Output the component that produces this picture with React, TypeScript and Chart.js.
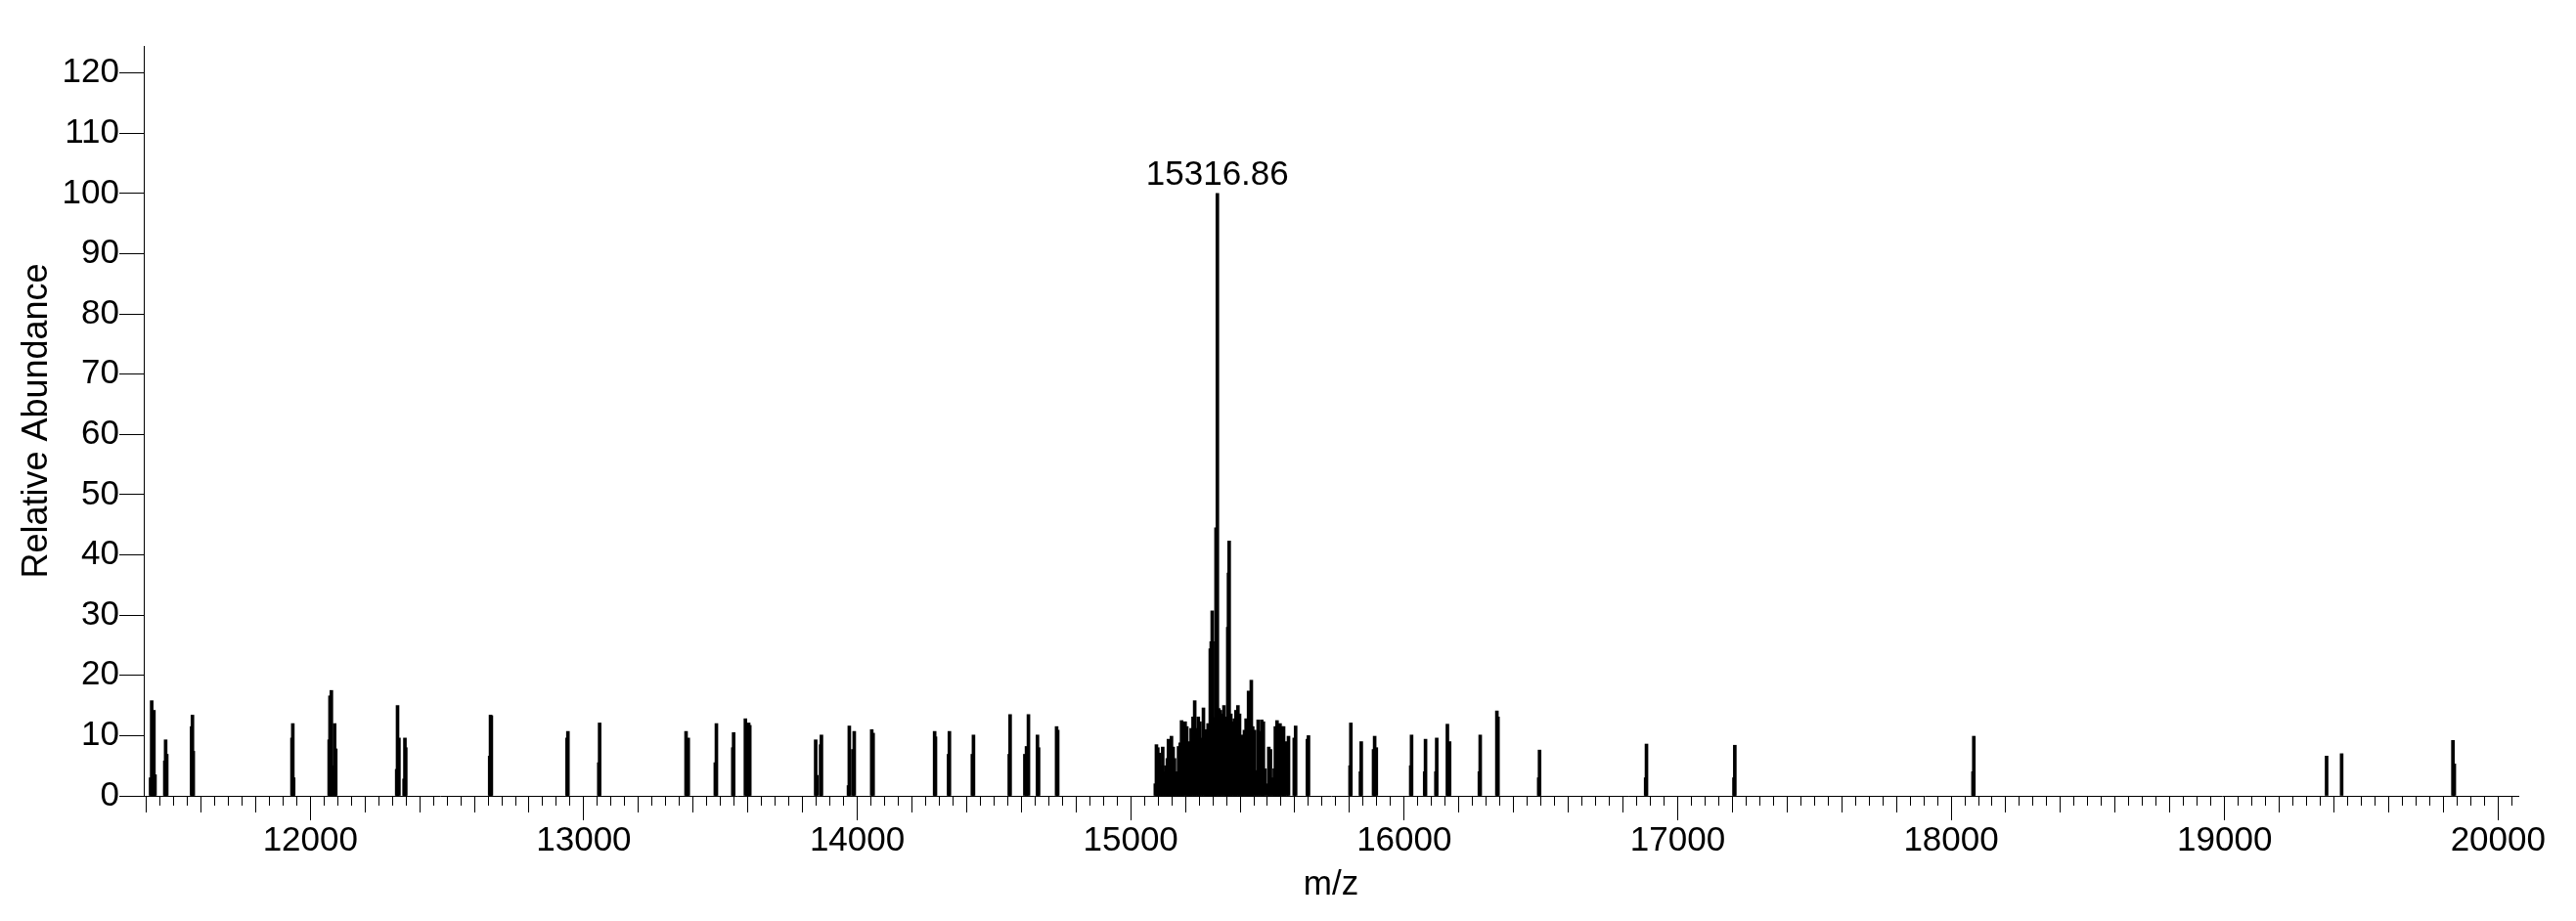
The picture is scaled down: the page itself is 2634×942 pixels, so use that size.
import React, { useEffect, useRef } from 'react';
import { Chart, registerables } from 'chart.js';

Chart.register(...registerables);

const FONT = '"Liberation Sans", Arial, Helvetica, sans-serif';

// Axis ranges and tick labels
const X_MIN = 11391;
const X_MAX = 20074;
const Y_MIN = 0;
const Y_MAX = 124.5;
const Y_TICKS = [0, 10, 20, 30, 40, 50, 60, 70, 80, 90, 100, 110, 120];
const X_TICK_FIRST = 11400;
const X_TICK_LAST = 20050;
const X_TICK_STEP = 50;

// Annotated base peak
const PEAK_MZ = 15316.86;
const PEAK_ABUNDANCE = 100;
const PEAK_TEXT = '15316.86';

// Sticks below the main cluster (m/z, relative abundance)
const MZ_LOW = [
  11416, 11420, 11424, 11428, 11432, 11468, 11471, 11475, 11566, 11569, 11572,
  11933, 11936, 11939, 12069, 12072, 12077, 12081, 12089, 12093, 12316, 12319,
  12324, 12343, 12346, 12349, 12656, 12659, 12662, 12939, 12942, 13055, 13058,
  13374, 13378, 13382, 13481, 13485, 13545, 13548, 13591, 13596, 13603, 13607,
  13848, 13852, 13866, 13869, 13968, 13971, 13984, 13989, 14053, 14058, 14283,
  14286, 14334, 14337, 14421, 14425, 14556, 14559, 14613, 14619, 14626, 14659,
  14663, 14729, 14733,
];
const AB_LOW = [
  3, 15.8, 9.6, 14.2, 3.5, 5.8, 9.3, 6.9, 11.5, 13.4, 7.4,
  9.6, 12.0, 3, 9.3, 16.6, 17.5, 5, 12.0, 7.8, 4.4, 15.0,
  9.6, 2.8, 9.6, 8.0, 6.6, 13.4, 13.3, 9.6, 10.7, 5.5, 12.1,
  10.7, 6.6, 9.6, 5.5, 12.0, 8.0, 10.5, 12.8, 6.1, 12.1, 11.7,
  9.3, 3.4, 8.5, 10.1, 1.7, 11.6, 7.7, 10.7, 11.0, 10.4, 10.7,
  9.8, 6.9, 10.7, 6.9, 10.1, 6.9, 13.5, 6.9, 8.2, 13.5, 10.1,
  8.0, 11.5, 10.9,
];

// Sticks in the dense cluster around the base peak
const MZ_CLUSTER = [
  15090, 15094, 15099, 15106, 15111, 15117, 15123, 15128, 15134, 15138, 15143,
  15149, 15155, 15160, 15166, 15172, 15175, 15181, 15186, 15192, 15199, 15205,
  15211, 15216, 15221, 15228, 15234, 15240, 15247, 15253, 15259, 15266, 15272,
  15277, 15283, 15286, 15291, 15294.5, 15298, 15300, 15303, 15307, 15312, 15316.86,
  15322, 15328, 15334, 15341, 15347, 15352, 15355, 15357.6, 15360, 15366, 15372,
  15379, 15385, 15392, 15398, 15404, 15410, 15416, 15422, 15427, 15431, 15437,
  15441, 15446, 15453, 15459, 15466, 15472, 15479, 15485, 15491, 15500, 15505,
  15511, 15518, 15525, 15529, 15535, 15540, 15546, 15552, 15559, 15563, 15571,
  15577, 15598, 15603, 15646, 15650,
];
const AB_CLUSTER = [
  2, 8.5, 8.0, 7.1, 5, 8.1, 4.0, 5, 6.2, 9.4, 7.7,
  9.9, 8.1, 6.2, 4, 2.1, 8.2, 8.8, 12.5, 12.1, 12.3, 11.5,
  6.1, 9, 11.2, 13.1, 15.8, 11.2, 13.1, 12.3, 9.6, 14.6, 10.9,
  11.0, 12.0, 11.5, 24.4, 25.6, 30.7, 25.6, 8.8, 13, 44.5, 100,
  14.5, 14.2, 13.6, 15.0, 13.1, 5.5, 28.0, 37.0, 42.3, 13.6, 12.3,
  12.8, 14.2, 15.0, 13.6, 9.3, 10.1, 10.9, 12.8, 12.0, 17.4, 13.1,
  19.2, 11.5, 10.9, 4.2, 12.6, 10.7, 12.6, 12.3, 4.5, 2.0, 8.1,
  7.7, 3, 4.5, 11.5, 12.5, 10.7, 12.0, 11.5, 11.5, 6.1, 9.0,
  9.9, 9.6, 11.6, 9.4, 10.0,
];

// Sticks above the main cluster
const MZ_HIGH = [
  15802, 15805, 15840, 15843, 15888, 15892, 15898, 16024, 16027, 16075, 16078,
  16116, 16119, 16158, 16162, 16166, 16275, 16278, 16339, 16343, 16492, 16495,
  16883, 16886, 17206, 17209, 18080, 18083, 19373, 19428, 19835, 19840,
];
const AB_HIGH = [
  5, 12.1, 4, 9.0, 7.7, 9.9, 8.0, 5, 10.1, 4, 9.4,
  4, 9.6, 11.9, 6, 9.0, 4, 10.1, 14.1, 13.1, 3, 7.6,
  3, 8.6, 3, 8.4, 4, 9.9, 6.6, 7.0, 9.2, 5.3,
];

const ALL_MZ = [...MZ_LOW, ...MZ_CLUSTER, ...MZ_HIGH];
const ALL_AB = [...AB_LOW, ...AB_CLUSTER, ...AB_HIGH];

const peakLabelPlugin = {
  id: 'peakLabel',
  afterDatasetsDraw(chart: any) {
    const { ctx, scales } = chart;
    const x = scales.x;
    const y = scales.y;
    ctx.save();
    ctx.font = `35px ${FONT}`;
    ctx.fillStyle = '#000';
    ctx.textAlign = 'center';
    ctx.textBaseline = 'alphabetic';
    ctx.fillText(PEAK_TEXT, x.getPixelForValue(PEAK_MZ), y.getPixelForValue(PEAK_ABUNDANCE) - 9);
    ctx.restore();
  },
};

export default function App() {
  const canvasRef = useRef<HTMLCanvasElement | null>(null);

  useEffect(() => {
    const canvas = canvasRef.current;
    if (!canvas) return;

    const points = ALL_MZ.map((mz, i) => ({ x: mz, y: ALL_AB[i] })).sort((a, b) => a.x - b.x);

    const xTickValues: number[] = [];
    for (let v = X_TICK_FIRST; v <= X_TICK_LAST; v += X_TICK_STEP) xTickValues.push(v);

    const chart = new Chart(canvas, {
      type: 'bar',
      data: {
        datasets: [
          {
            data: points as any,
            backgroundColor: '#000',
            borderWidth: 0,
            barThickness: 3,
            categoryPercentage: 1,
            barPercentage: 1,
          } as any,
        ],
      },
      plugins: [peakLabelPlugin],
      options: {
        responsive: false,
        animation: false,
        events: [],
        layout: { padding: { left: 0, top: 47, right: 59, bottom: 0 } },
        plugins: {
          legend: { display: false },
          tooltip: { enabled: false },
        },
        scales: {
          x: {
            type: 'linear',
            min: X_MIN,
            max: X_MAX,
            offset: false,
            afterBuildTicks: (scale: any) => {
              scale.ticks = xTickValues.map((v) => ({ value: v }));
            },
            afterFit: (scale: any) => {
              scale.height = 128;
            },
            grid: {
              display: true,
              offset: false,
              drawOnChartArea: false,
              drawTicks: true,
              tickLength: 25,
              tickColor: '#000',
              tickWidth: 1,
              tickBorderDash: (ctx: any) => {
                const v = ctx.tick ? ctx.tick.value : 0;
                if (v % 1000 === 0) return [];
                if (v % 200 === 0) return [16, 60];
                return [9, 60];
              },
            } as any,
            border: { display: true, color: '#000', width: 1 },
            ticks: {
              autoSkip: false,
              maxRotation: 0,
              minRotation: 0,
              padding: 0,
              color: '#000',
              font: { family: FONT, size: 35 },
              callback: (value: any) => (Number(value) % 1000 === 0 ? String(value) : ''),
            },
            title: {
              display: true,
              text: 'm/z',
              color: '#000',
              font: { family: FONT, size: 35 },
              padding: { top: 0, bottom: 16 },
            },
          },
          y: {
            type: 'linear',
            min: Y_MIN,
            max: Y_MAX,
            afterBuildTicks: (scale: any) => {
              scale.ticks = Y_TICKS.map((v) => ({ value: v }));
            },
            afterFit: (scale: any) => {
              scale.width = 147;
            },
            grid: {
              display: true,
              drawOnChartArea: false,
              drawTicks: true,
              tickLength: 25,
              tickColor: '#000',
              tickWidth: 1,
            },
            border: { display: true, color: '#000', width: 1 },
            ticks: {
              padding: 0,
              color: '#000',
              font: { family: FONT, size: 35 },
            },
            title: {
              display: true,
              text: 'Relative Abundance',
              color: '#000',
              font: { family: FONT, size: 36 },
              padding: { top: 16, bottom: 0 },
            },
          },
        },
      } as any,
    });

    return () => {
      chart.destroy();
    };
  }, []);

  return (
    <div style={{ position: 'absolute', left: 0, top: 0, width: 2634, height: 942, background: '#fff' }}>
      <canvas ref={canvasRef} width={2634} height={942} style={{ display: 'block' }} />
    </div>
  );
}
